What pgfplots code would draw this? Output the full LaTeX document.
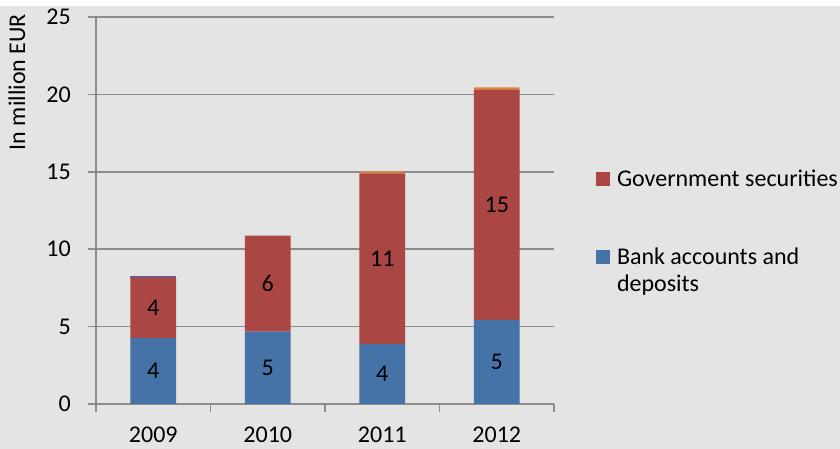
\documentclass[border=0pt]{standalone}
\usepackage{pgfplots}
\pgfplotsset{compat=1.18}
\usepackage{pgfplotstable}
\usepackage{fontspec}
\setmainfont{Carlito}

\definecolor{bankblue}{HTML}{4572A7}
\definecolor{govred}{HTML}{AA4643}
\definecolor{topviolet}{HTML}{71588F}
\definecolor{toporange}{HTML}{DB843D}
\definecolor{bg}{HTML}{E4E4E4}
\definecolor{axgray}{HTML}{8C8C8C}

% year index, bank accounts, government securities, small top segments
\pgfplotstableread{
x bank gov violet orange
0 4.25 3.92 0.08 0
1 4.67 6.21 0    0
2 3.86 11.03 0   0.13
3 5.43 14.87 0   0.15
}\assets

\pgfplotsset{
  sq legend/.style={legend image code/.code={\fill[##1] (0pt,0.3pt) rectangle (14pt,14.3pt);}},
  mid label/.style={
    visualization depends on={\thisrow{#1} \as \rawy},
    nodes near coords={\pgfmathprintnumber[fixed,precision=0]{\rawy}},
    every node near coord/.style={anchor=center, black,
      font=\fontsize{24}{27}\selectfont}},
}

\begin{document}
\fontsize{24}{27}\selectfont
\begin{tikzpicture}
\fill[bg] (-96pt,-45pt) rectangle (744pt,398pt);
\fill[white] (-96pt,398pt) rectangle (744pt,404pt);
\useasboundingbox (-96pt,-45pt) rectangle (744pt,404pt);
\begin{axis}[
    at={(0,0)}, anchor=south west,
    scale only axis,
    width=458pt, height=387pt,
    ybar stacked,
    bar width=0.4,
    xmin=-0.5, xmax=3.5,
    ymin=0, ymax=25,
    ytick={0,5,...,25},
    xtick={0,1,2,3},
    xticklabels={2009,2010,2011,2012},
    minor xtick={-0.5,0.5,...,3.5},
    axis x line*=bottom,
    axis y line*=left,
    axis line style={axgray, line width=1.5pt, -},
    ymajorgrids,
    grid style={axgray, line width=1.5pt},
    tick align=outside,
    major tick length=8pt,
    minor tick length=8pt,
    xtick style={draw=none},
    minor x tick style={axgray, line width=1.5pt, draw=axgray},
    ytick style={axgray, line width=1.5pt},
    tick label style={font=\fontsize{24}{27}\selectfont},
    /pgf/number format/assume math mode=true,
    yticklabel style={xshift=-9pt},
    xticklabel style={yshift=-7pt},
    ylabel={In million EUR},
    ylabel style={at={(rel axis cs:-0.155,0.832)}, anchor=base, font=\fontsize{24}{27}\selectfont},
    legend style={at={(rel axis cs:1.0917,0.606)}, anchor=north west,
      draw=none, fill=none, inner sep=0pt, outer sep=0pt,
      nodes={inner sep=0pt},
      cells={anchor=base west},
      column sep=7pt, row sep=56pt,
      font=\fontsize{24}{27}\selectfont},
    reverse legend,
    clip=false,
  ]
  \addplot+[fill=bankblue, draw=none, sq legend, mid label=bank]
    table[x=x, y=bank] {\assets};
  \addlegendentry{\begin{tabular}[t]{@{}l@{}}Bank accounts and\\deposits\end{tabular}}
  \addplot+[fill=govred, draw=none, sq legend, mid label=gov]
    table[x=x, y=gov] {\assets};
  \addlegendentry{Government securities}
  \addplot+[fill=topviolet, draw=none, forget plot] table[x=x, y=violet] {\assets};
  \addplot+[fill=toporange, draw=none, forget plot] table[x=x, y=orange] {\assets};
\end{axis}
\end{tikzpicture}
\end{document}
